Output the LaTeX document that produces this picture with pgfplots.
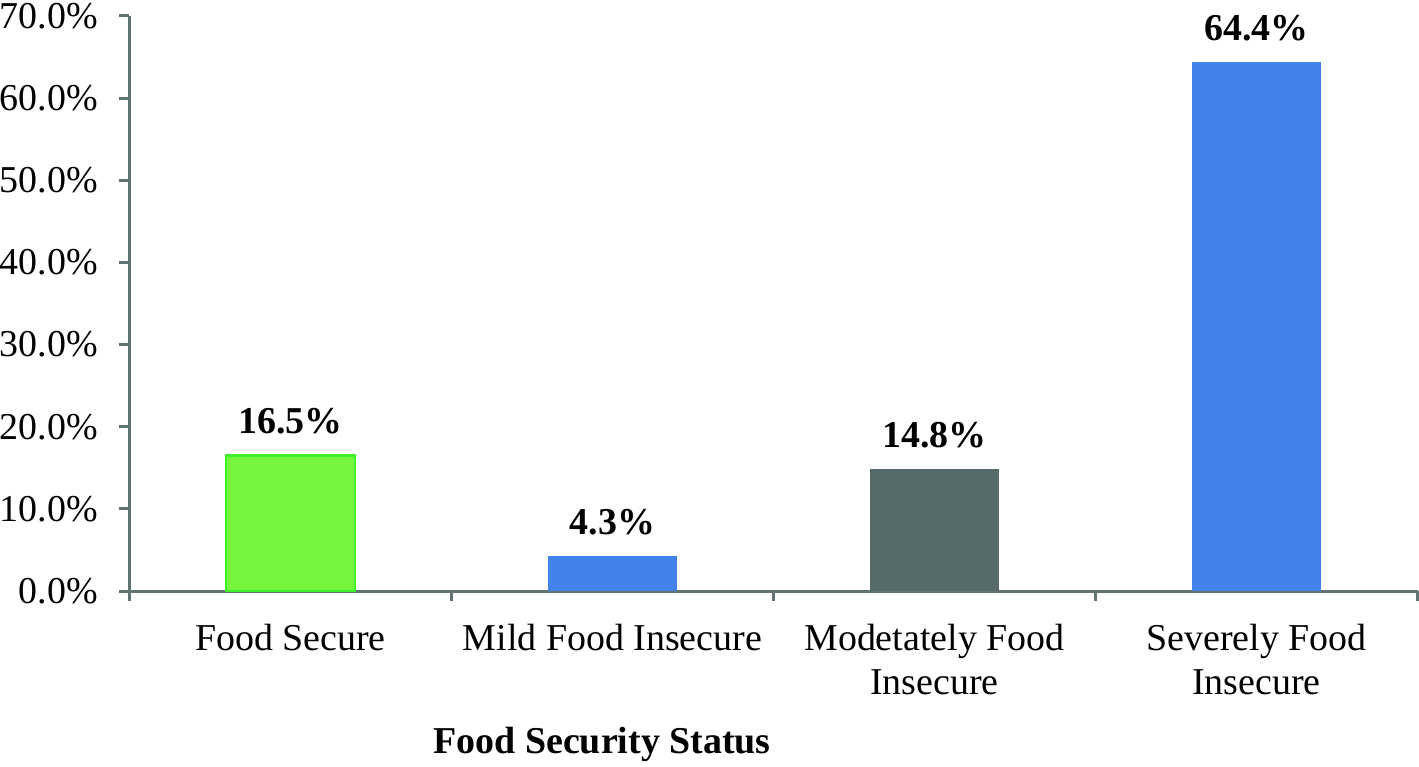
\documentclass[border=0pt]{standalone}
\usepackage{pgfplots}
\pgfplotsset{compat=1.18}
\usepackage{fontspec}
\setmainfont{Liberation Serif}

\definecolor{axisgray}{HTML}{5F7473}
\definecolor{fsgreen}{HTML}{77F43C}
\definecolor{fsgreenedge}{HTML}{3EEF2E}
\definecolor{fsblue}{HTML}{4283E9}
\definecolor{fsgray}{HTML}{566B69}

\begin{document}
\begin{tikzpicture}
\begin{axis}[
    scale only axis, width=645pt, height=288pt,
    xmin=-0.5, xmax=3.5, ymin=0, ymax=70,
    axis x line=bottom, axis y line=left,
    axis line style={-, axisgray, line width=1.5pt},
    tick align=outside,
    tick style={axisgray, line width=1.5pt},
    major tick length=5pt, minor tick length=5pt,
    ytick={0,10,...,70},
    yticklabel={\pgfmathprintnumber[fixed,fixed zerofill,precision=1]{\tick}\%},
    xtick={0,1,2,3},
    xticklabels={Food Secure, Mild Food Insecure, Modetately Food\\Insecure, Severely Food\\Insecure},
    minor xtick={-0.5,0.5,1.5,2.5,3.5},
    major x tick style={draw=none},
    /pgf/number format/assume math mode=true,
    every tick label/.append style={font=\fontsize{19}{22}\selectfont, text=black, inner xsep=0pt, inner ysep=1.5pt},
    xticklabel style={align=center, anchor=north, yshift=-9.8pt},
    yticklabel style={xshift=-10.5pt},
    xlabel={\textbf{Food Security Status}},
    xlabel style={at={(rel axis cs:0.367,0)}, anchor=center, yshift=-77pt, inner xsep=0pt, inner ysep=2pt, font=\fontsize{19}{22}\selectfont},
    ybar, bar width=0.4, bar shift=0pt,
    nodes near coords={\pgfmathprintnumber[fixed,fixed zerofill,precision=1]{\pgfplotspointmeta}\%},
    every node near coord/.append style={font=\fontsize{19}{22}\selectfont\bfseries, text=black, yshift=7pt},
    clip=false,
]
\addplot[fill=fsgreen, draw=fsgreenedge, line width=1.2pt] coordinates {(0,16.5)};
\addplot[fill=fsblue, draw=none] coordinates {(1,4.3)};
\addplot[fill=fsgray, draw=none] coordinates {(2,14.8)};
\addplot[fill=fsblue, draw=none] coordinates {(3,64.4)};
\end{axis}
\end{tikzpicture}
\end{document}
